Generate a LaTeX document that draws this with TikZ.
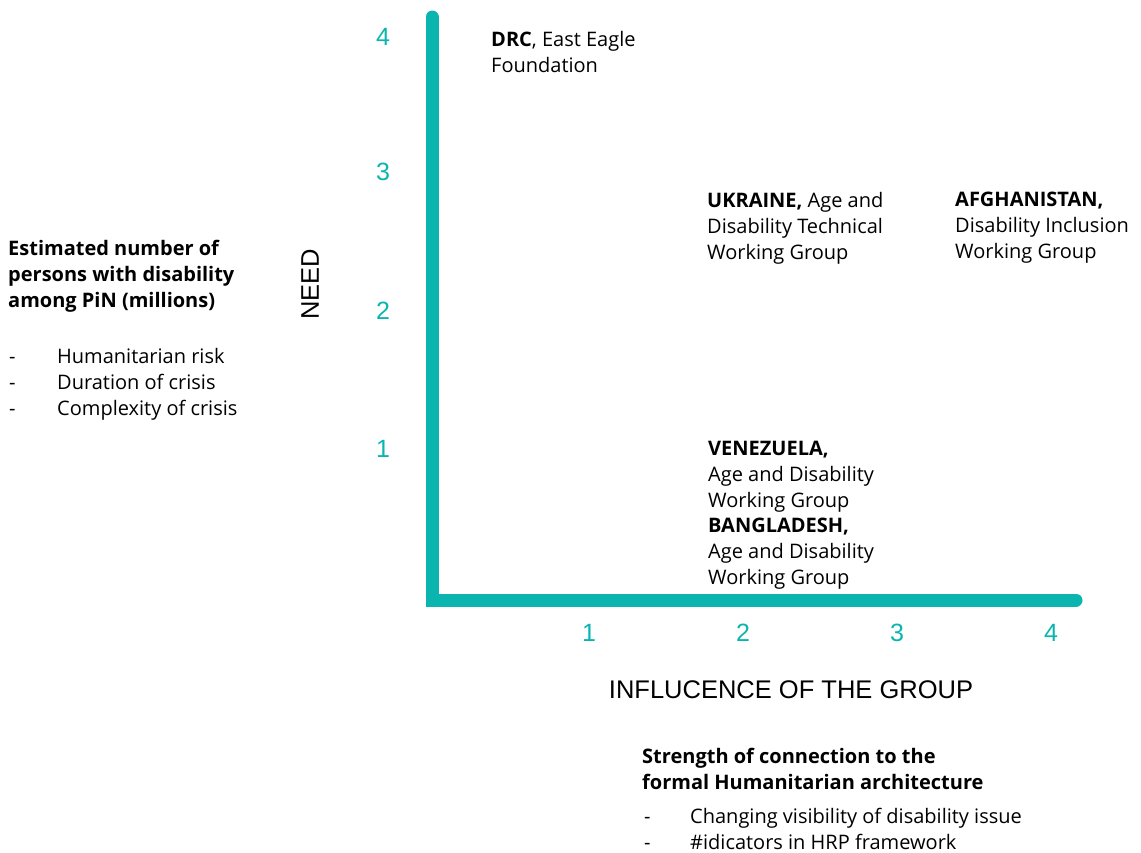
\documentclass[tikz,border=0pt]{standalone}
\usepackage{fontspec}
\setmainfont{Open Sans}
\newfontfamily\axisfont{Liberation Sans}
\definecolor{axisteal}{RGB}{10,181,176}
\newcommand{\listdash}{\makebox[48pt][l]{-}}
\begin{document}
\begin{tikzpicture}[x=1pt, y=-1pt,
	every node/.style={inner sep=0pt, anchor=north west, align=left, font=\fontsize{20}{25.8}\selectfont},
	tick/.style={anchor=center, text=axisteal, font=\axisfont\fontsize{25}{25}\selectfont},
	axistitle/.style={anchor=center, font=\axisfont\fontsize{25.5}{25.5}\selectfont}]
			\useasboundingbox (0,0) rectangle (1141,852);

			\coordinate (top) at (432,17);
			\coordinate (origin) at (432,600);
			\coordinate (right) at (1076,600);
			\draw[axisteal, line width=13pt, line cap=round, line join=miter] (top) -- (origin) -- (right);

			\node[tick] (y4) at (383,37) {4};
			\node[tick] (y3) at (383,172) {3};
			\node[tick] (y2) at (383,311) {2};
			\node[tick] (y1) at (383,449) {1};
			\node[tick] (x1) at (589,633) {1};
			\node[tick] (x2) at (743,633) {2};
			\node[tick] (x3) at (897,633) {3};
			\node[tick] (x4) at (1051,633) {4};

			\node[axistitle, rotate=90] (need) at (310,284) {NEED};
			\node[axistitle] (influence) at (791,690) {INFLUCENCE OF THE GROUP};

			\node (needhead) at (8,240) {\textbf{Estimated number of}\\\textbf{persons with disability}\\\textbf{among PiN (millions)}};
			\node (needlist) at (9,348) {\listdash Humanitarian risk\\\listdash Duration of crisis\\\listdash Complexity of crisis};

			\node (drc) at (491,31) {\textbf{DRC}, East Eagle\\Foundation};
			\node (ukraine) at (707,192) {\textbf{UKRAINE,} Age and\\Disability Technical\\Working Group};
			\node (afghanistan) at (955,192) {\textbf{AFGHANISTAN,}\\Disability Inclusion\\Working Group};
			\node (venezuela) at (708,441) {\textbf{VENEZUELA,}\\Age and Disability\\Working Group\\\textbf{BANGLADESH,}\\Age and Disability\\Working Group};

			\node (inflhead) at (642,748) {\textbf{Strength of connection to the}\\\textbf{formal Humanitarian architecture}};
			\node (infllist) at (644,808) {\makebox[46pt][l]{-}Changing visibility of disability issue\\\makebox[46pt][l]{-}\#idicators in HRP framework};
		\end{tikzpicture}
\end{document}
